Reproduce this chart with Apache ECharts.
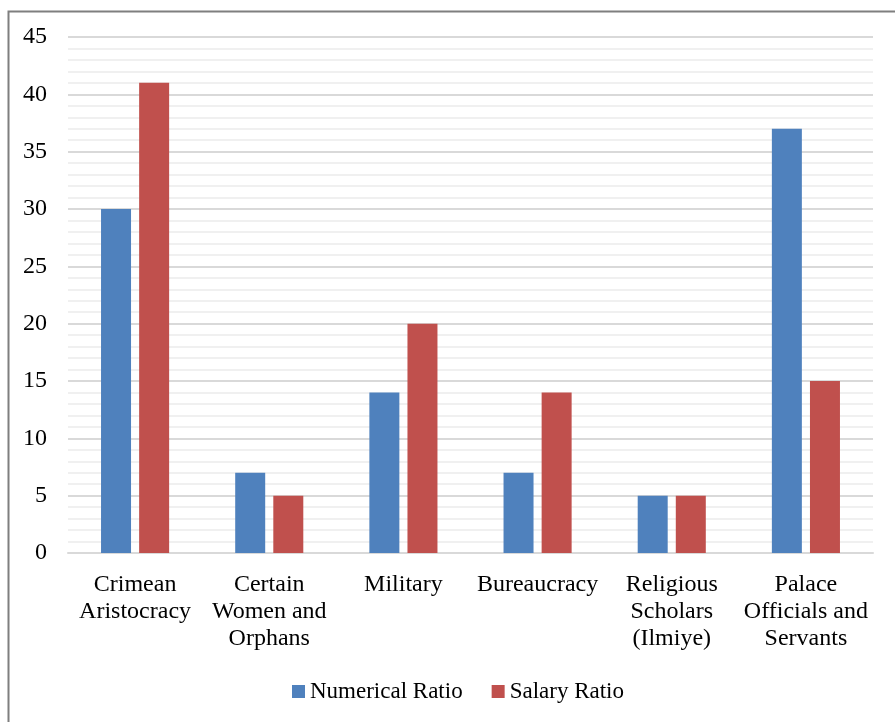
<!DOCTYPE html>
<html>
<head>
<meta charset="utf-8">
<script src="https://cdn.jsdelivr.net/npm/echarts@6/dist/echarts.min.js"></script>
<style>
  html, body { margin: 0; padding: 0; background: #ffffff; }
  #chart { width: 895px; height: 722px; }
</style>
</head>
<body>
<div id="chart"></div>
<script>
// Group categories and their shares (%)
const categories = [
  'Crimean\nAristocracy',
  'Certain\nWomen and\nOrphans',
  'Military',
  'Bureaucracy',
  'Religious\nScholars\n(Ilmiye)',
  'Palace\nOfficials and\nServants'
];
const numericalRatio = [30, 7, 14, 7, 5, 37];
const salaryRatio = [41, 5, 20, 14, 5, 15];
const yTicks = { min: 0, max: 45, interval: 5 };

const serif = '"Liberation Serif", "Times New Roman", serif';

const chart = echarts.init(document.getElementById('chart'), null, { renderer: 'canvas' });

chart.setOption({
  backgroundColor: '#ffffff',
  animation: false,
  graphic: [{
    type: 'rect',
    left: 6,
    top: 9,
    shape: { width: 1000, height: 1000 },
    style: { fill: 'none', stroke: '#7f7f7f', lineWidth: 2 },
    silent: true,
    z: 100
  }],
  grid: { left: 68, right: 22, top: 37, bottom: 169, containLabel: false },
  legend: {
    left: 287,
    top: 675,
    icon: 'rect',
    itemWidth: 13,
    itemHeight: 13,
    itemGap: 29,
    textStyle: { fontFamily: serif, fontSize: 23, color: '#000000' },
    data: ['Numerical Ratio', 'Salary Ratio']
  },
  xAxis: {
    type: 'category',
    data: categories,
    axisLine: { show: true, lineStyle: { color: '#d9d9d9', width: 2 } },
    axisTick: { show: false },
    axisLabel: {
      interval: 0,
      margin: 18,
      fontFamily: serif,
      fontSize: 24,
      lineHeight: 27,
      color: '#000000',
      align: 'center'
    }
  },
  yAxis: {
    type: 'value',
    min: yTicks.min,
    max: yTicks.max,
    interval: yTicks.interval,
    axisLine: { show: false },
    axisTick: { show: false },
    axisLabel: { margin: 21, fontFamily: serif, fontSize: 24, color: '#000000' },
    splitLine: { show: true, lineStyle: { color: '#d9d9d9', width: 2 } },
    minorTick: { show: false, splitNumber: 5 },
    minorSplitLine: { show: true, lineStyle: { color: '#f0f0f0', width: 2 } }
  },
  series: [
    {
      name: 'Numerical Ratio',
      type: 'bar',
      data: numericalRatio,
      barWidth: 30,
      barGap: '27%',
      itemStyle: { color: '#4f81bd' }
    },
    {
      name: 'Salary Ratio',
      type: 'bar',
      data: salaryRatio,
      barWidth: 30,
      barGap: '27%',
      itemStyle: { color: '#c0504d' }
    }
  ]
});
</script>
</body>
</html>
